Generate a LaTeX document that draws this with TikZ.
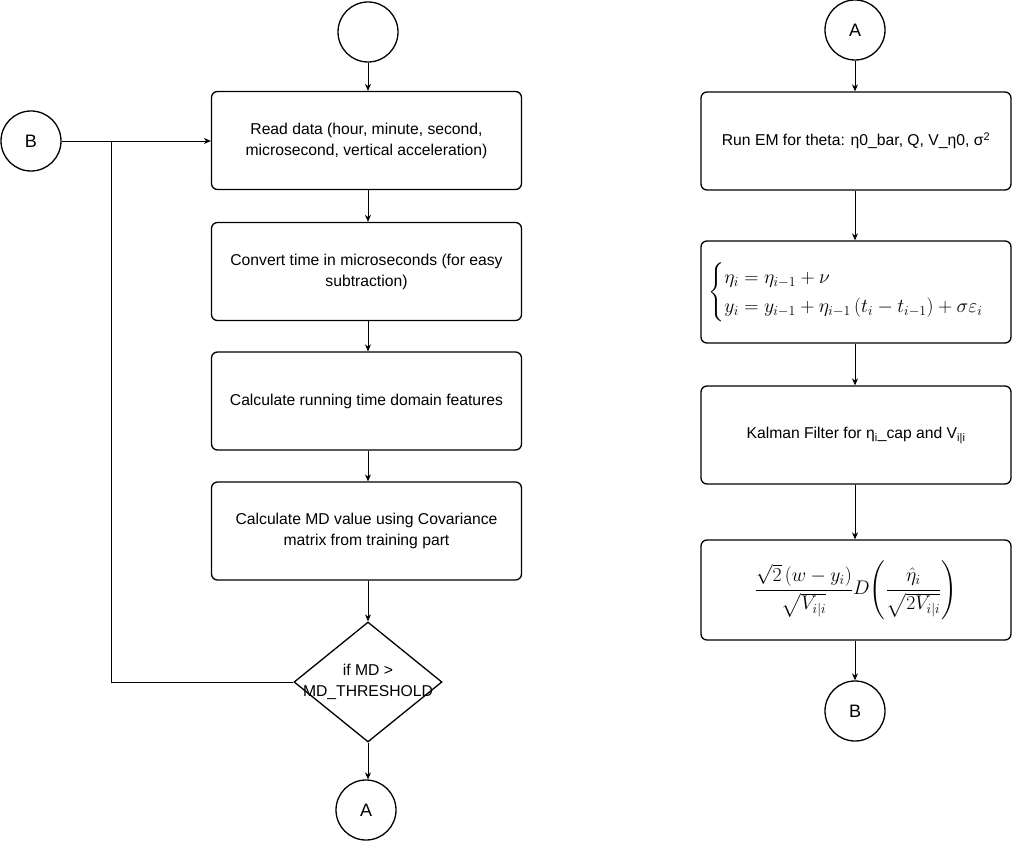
\documentclass[tikz,border=0pt]{standalone}
\usepackage{amsmath}
\usepackage{graphicx}
\usepackage{fontspec}
\setmainfont{Liberation Sans}
\usetikzlibrary{shapes.geometric,arrows.meta}
\begin{document}
\begin{tikzpicture}[x=1pt,y=-1pt,
  box/.style={draw,line width=1.3pt,rounded corners=6pt,minimum width=310pt,minimum height=98pt,align=center,font=\fontsize{15.7}{21}\selectfont,inner sep=0pt},
  conn/.style={draw,line width=1.3pt,circle,minimum size=60pt,inner sep=0pt,font=\fontsize{18}{20}\selectfont},
  dec/.style={draw,line width=1.3pt,diamond,minimum width=148pt,minimum height=120pt,inner sep=0pt,align=center,font=\fontsize{15.7}{21}\selectfont},
  arr/.style={line width=0.9pt,-{Stealth[length=7pt,width=6pt]}},
  ln/.style={line width=0.9pt}]
\useasboundingbox (0,0) rectangle (1012,842);
% left column
\node[conn] (s) at (368,32) {};
\node[box] (b1) at (366.5,140.5) {Read data (hour, minute, second,\\microsecond, vertical acceleration)};
\node[box] (b2) at (366.5,271.5) {Convert time in microseconds (for easy\\subtraction)};
\node[box] (b3) at (366.5,401) {Calculate running time domain features};
\node[box] (b4) at (366.5,531) {Calculate MD value using Covariance\\matrix from training part};
\node[dec] (d) at (368,682) {};
\node[align=center,font=\fontsize{15.7}{21}\selectfont,inner sep=0pt] (dt) at (368,682) {if MD >\\MD\_THRESHOLD};
\node[conn] (a1) at (366,810) {A};
\node[conn] (bl) at (31,141) {B};
\coordinate (j1) at (111,141);
\coordinate (j2) at (111,682);
\draw[arr] (s) -- (s|-b1.north);
\draw[arr] (b1.south-|368,0) -- (368,0|-b2.north);
\draw[arr] (b2.south-|368,0) -- (368,0|-b3.north);
\draw[arr] (b3.south-|368,0) -- (368,0|-b4.north);
\draw[arr] (b4.south-|368,0) -- (d.north);
\draw[arr] (d.south) -- (d.south|-a1.north);
\draw[arr] (bl) -- (b1.west|-bl);
\draw[ln] (d.west) -- (j2) -- (j1);
% right column
\node[conn] (a2) at (855,30) {A};
\node[box] (r1) at (856,141) {Run EM for theta: η0\_bar, Q, V\_η0, σ\textsuperscript{2}};
\node[box,minimum height=102pt] (r2) at (856,292) {%
  \scalebox{1.14}{\fontsize{17.28}{21}\selectfont$\begin{cases}\eta_i=\eta_{i-1}+\nu\\ y_i=y_{i-1}+\eta_{i-1}\left(t_i-t_{i-1}\right)+\sigma\varepsilon_i\end{cases}$}};
\node[box] (r3) at (856,435) {Kalman Filter for η\textsubscript{i}\_cap and V\textsubscript{i|i}};
\node[box,minimum height=100pt] (r4) at (856,590) {%
  \scalebox{1.14}{\fontsize{17.28}{21}\selectfont$\dfrac{\sqrt{2}\left(w-y_i\right)}{\sqrt{V_{i|i}}}D\!\left(\dfrac{\hat{\eta}_i}{\sqrt{2V_{i|i}}}\right)$}};
\node[conn] (b2c) at (855,711) {B};
\draw[arr] (a2) -- (a2|-r1.north);
\draw[arr] (r1.south-|855,0) -- (855,0|-r2.north);
\draw[arr] (r2.south-|855,0) -- (855,0|-r3.north);
\draw[arr] (r3.south-|855,0) -- (855,0|-r4.north);
\draw[arr] (r4.south-|855,0) -- (b2c);
\end{tikzpicture}
\end{document}
